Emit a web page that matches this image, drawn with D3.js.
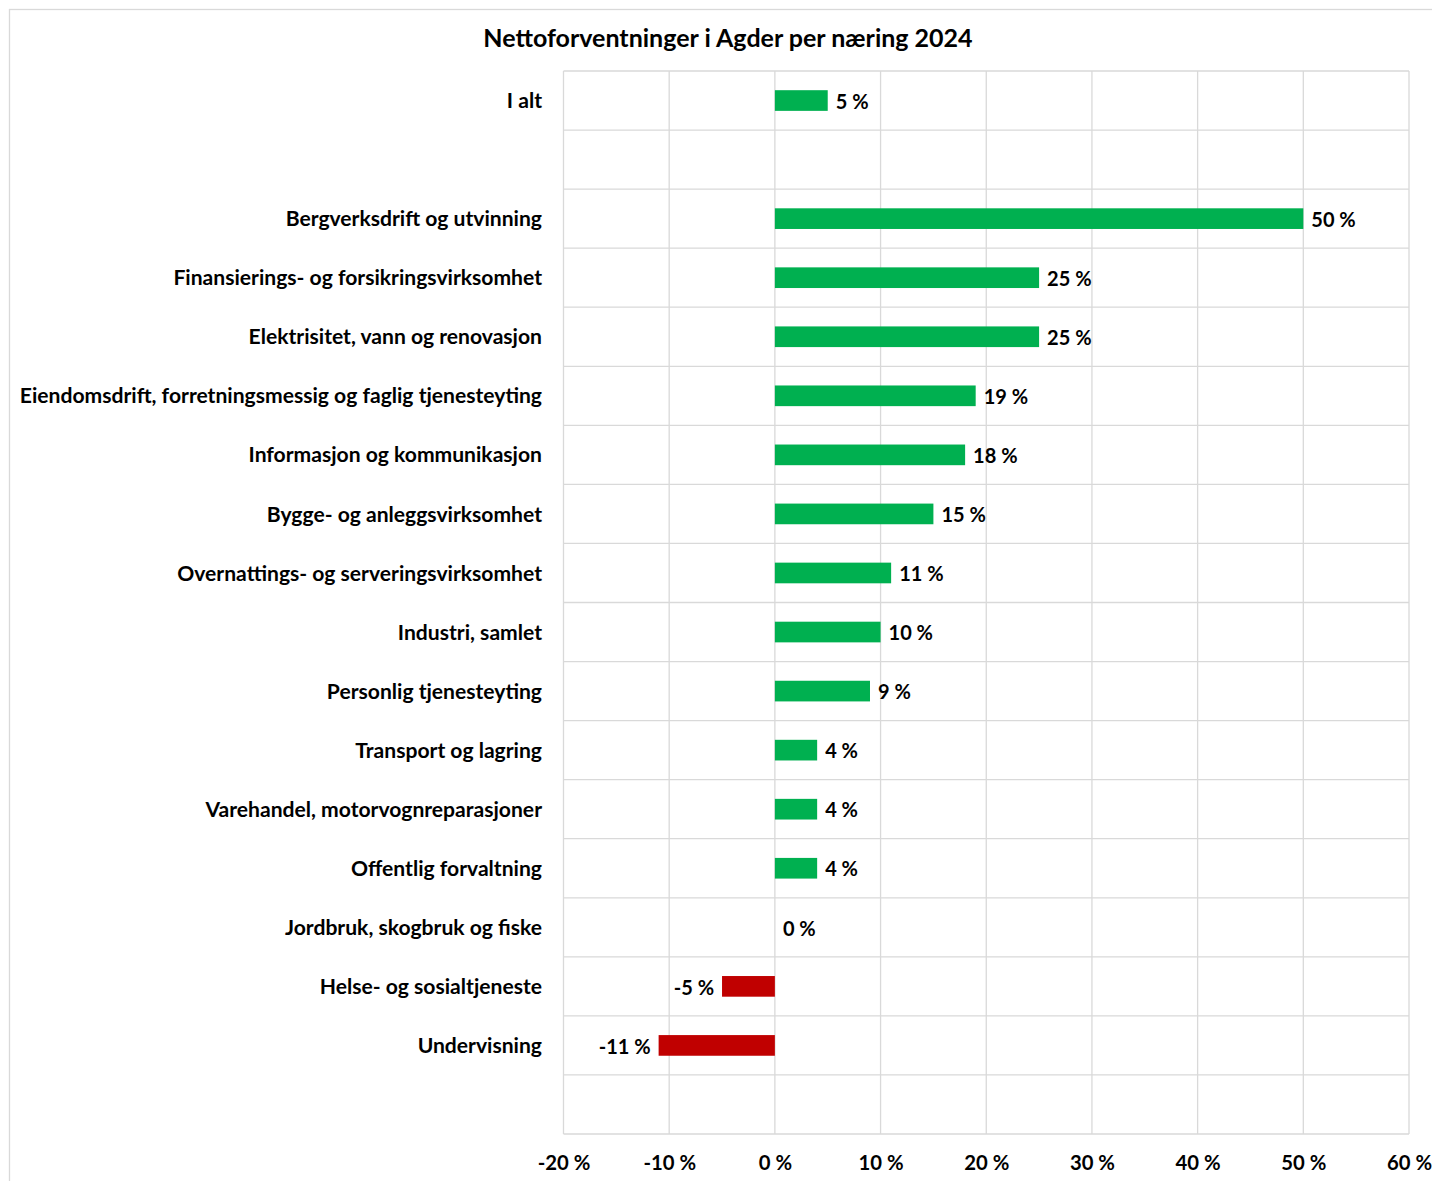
<!DOCTYPE html>
<html>
<head>
<meta charset="utf-8">
<script src="https://cdn.jsdelivr.net/npm/d3@7"></script>
<style>
  html, body { margin: 0; padding: 0; background: #fff; }
  svg { display: block; }
  text { font-family: Lato, "Open Sans", sans-serif; font-weight: bold; fill: #000; }
</style>
</head>
<body>
<svg id="chart" width="1432" height="1181"></svg>
<script>
const title = "Nettoforventninger i Agder per næring 2024";
const categories = [
  "I alt",
  "",
  "Bergverksdrift og utvinning",
  "Finansierings- og forsikringsvirksomhet",
  "Elektrisitet, vann og renovasjon",
  "Eiendomsdrift, forretningsmessig og faglig tjenesteyting",
  "Informasjon og kommunikasjon",
  "Bygge- og anleggsvirksomhet",
  "Overnattings- og serveringsvirksomhet",
  "Industri, samlet",
  "Personlig tjenesteyting",
  "Transport og lagring",
  "Varehandel, motorvognreparasjoner",
  "Offentlig forvaltning",
  "Jordbruk, skogbruk og fiske",
  "Helse- og sosialtjeneste",
  "Undervisning",
  ""
];
const values = [5, null, 50, 25, 25, 19, 18, 15, 11, 10, 9, 4, 4, 4, 0, -5, -11, null];
const tickValues = [-20, -10, 0, 10, 20, 30, 40, 50, 60];
const tickLabels = ["-20 %", "-10 %", "0 %", "10 %", "20 %", "30 %", "40 %", "50 %", "60 %"];

const svg = d3.select("#chart");
const W = 1432, H = 1181;
const plot = { left: 563.5, right: 1409, top: 71, bottom: 1134 };

// outer border
svg.append("rect").attr("x", 9.5).attr("y", 9.5).attr("width", W).attr("height", H)
  .attr("fill", "#fff").attr("stroke", "#d9d9d9").attr("stroke-width", 1.3);

const x = d3.scaleLinear().domain([-20, 60]).range([plot.left, plot.right]);
const idx = categories.map((d, i) => i);
const y = d3.scaleBand().domain(idx).range([plot.top, plot.bottom]).paddingInner(0.65).paddingOuter(0.325);
const yb = d3.scaleBand().domain(idx).range([plot.top, plot.bottom]);

const grid = svg.append("g");
grid.selectAll("line.v").data(tickValues).enter().append("line")
  .attr("x1", d => x(d)).attr("x2", d => x(d))
  .attr("y1", plot.top).attr("y2", plot.bottom)
  .attr("stroke", "#d9d9d9").attr("stroke-width", 1.3);
const bounds = idx.map(i => yb(i)).concat([plot.bottom]);
grid.selectAll("line.h").data(bounds).enter().append("line")
  .attr("x1", plot.left).attr("x2", plot.right)
  .attr("y1", d => d).attr("y2", d => d)
  .attr("stroke", "#d9d9d9").attr("stroke-width", 1.3);

// bars
const data = idx.map(i => ({ i, cat: categories[i], v: values[i] }));
svg.append("g").selectAll("rect").data(data.filter(d => d.v !== null)).enter().append("rect")
  .attr("x", d => x(Math.min(0, d.v)))
  .attr("width", d => Math.abs(x(d.v) - x(0)))
  .attr("y", d => y(d.i))
  .attr("height", y.bandwidth())
  .attr("fill", d => d.v < 0 ? "#c00000" : "#00b050");

// value labels
svg.append("g").selectAll("text").data(data.filter(d => d.v !== null)).enter().append("text")
  .attr("x", d => d.v < 0 ? x(d.v) - 8 : x(d.v) + 8)
  .attr("y", d => yb(d.i) + yb.bandwidth() / 2 + 1)
  .attr("dy", "0.36em")
  .attr("text-anchor", d => d.v < 0 ? "end" : "start")
  .style("font-size", "20px")
  .text(d => d.v + " %");

// category labels
svg.append("g").selectAll("text").data(data).enter().append("text")
  .attr("x", 542)
  .attr("y", d => yb(d.i) + yb.bandwidth() / 2)
  .attr("dy", "0.36em")
  .attr("text-anchor", "end")
  .style("font-size", "21.1px")
  .text(d => d.cat);

// x axis tick labels
const xAxis = d3.axisBottom(x).tickValues(tickValues).tickSize(0).tickPadding(0)
  .tickFormat((d, i) => tickLabels[i]);
const ax = svg.append("g").attr("transform", `translate(0, ${plot.bottom})`).call(xAxis);
ax.select(".domain").remove();
ax.selectAll("text").attr("y", 29).attr("dy", "0.36em")
  .style("font-size", "20.3px").style("font-family", "Lato, 'Open Sans', sans-serif")
  .style("font-weight", "bold").attr("fill", "#000");

// title
svg.append("text").attr("x", 728).attr("y", 38).attr("dy", "0.36em")
  .attr("text-anchor", "middle").style("font-size", "25px").text(title);
</script>
</body>
</html>
